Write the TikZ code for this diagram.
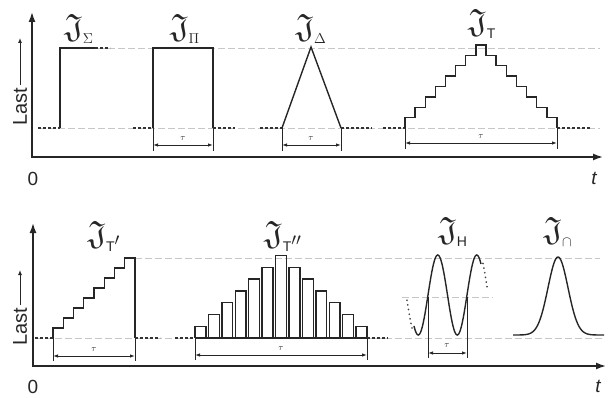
\documentclass[tikz,border=0pt]{standalone}
\usepackage{amssymb}
\usepackage{fontspec}
\setsansfont{Liberation Sans}
\usetikzlibrary{arrows.meta}
\newcommand{\sub}[1]{\hbox{\fontsize{14}{14}\selectfont\sffamily #1}}
\newcommand{\bigJ}{\scalebox{1.35}{$\mathfrak{J}$}}
\tikzset{
  axis/.style={line width=1.6pt, draw=black!85, line join=miter, {Latex[length=10pt,width=7pt]}-{Latex[length=10pt,width=7pt]}},
  sig/.style={line width=1.4pt, draw=black!85},
  guide/.style={line width=0.8pt, draw=black!22, dash pattern=on 7pt off 3pt},
  cont/.style={line width=1.3pt, draw=black!80, dash pattern=on 3pt off 2pt},
  dotc/.style={line width=1.8pt, draw=black!75, dash pattern=on 0.1pt off 4.6pt, line cap=round},
  ext/.style={line width=0.9pt, draw=black!85},
  dim/.style={line width=0.9pt, draw=black!85, {Latex[length=5pt,width=3.5pt]}-{Latex[length=5pt,width=3.5pt]}},
  lbl/.style={font=\fontsize{24.88}{28}\selectfont, inner sep=0pt, text=black!85},
  taulbl/.style={font=\fontsize{9}{10}\selectfont, inner sep=0pt, text=black!85},
  axtxt/.style={font=\fontsize{19}{21}\selectfont\sffamily, inner sep=0pt, text=black!85},
  lastarrow/.style={line width=1pt, draw=black!85, shorten <=3pt, -{Latex[length=5pt,width=4pt]}},
}
\begin{document}
\begin{tikzpicture}[x=1pt,y=-1pt]
\useasboundingbox (0,0) rectangle (615,398);

% ================= TOP PANEL =================
% guide lines
\draw[guide] (38,128) -- (600,128);
\draw[guide] (98,48) -- (600,48);
% axes
\draw[axis] (32,12) -- (32,157) -- (603,157);
\node[axtxt] (zeroA) at (33,179) {0};
\node[axtxt, font=\fontsize{19}{21}\selectfont\sffamily\itshape] (tA) at (594,178) {t};
\node[axtxt, rotate=90, font=\fontsize{20}{22}\selectfont\sffamily] (lastA) at (20,107) {Last};
\coordinate (lastAtip) at (20,38);
\draw[lastarrow] (lastA.east) -- (lastAtip);

% Sigma: step
\draw[cont] (38,128) -- (60,128);
\draw[sig] (60,128) -- (60,48) -- (95,48);
\draw[cont] (95,48) -- (110,48);
\node[lbl] (JSigma) at (79,29) {$\bigJ_{\sub{$\Sigma$}}$};

% Pi: rectangle
\draw[cont] (133,128) -- (153,128);
\draw[sig] (153,128) -- (153,48) -- (213,48) -- (213,128);
\draw[cont] (213,128) -- (235,128);
\draw[ext] (153,128) -- (153,151);
\draw[ext] (213,128) -- (213,151);
\draw[dim] (153,145) -- (213,145);
\node[taulbl] (tauPi) at (183,139) {$\tau$};
\node[lbl] (JPi) at (185,29) {$\bigJ_{\sub{$\Pi$}}$};

% Delta: triangle
\draw[cont] (260,128) -- (282,128);
\draw[sig, line join=miter] (282,128) -- (311,47) -- (341,128);
\draw[cont] (341,128) -- (372,128);
\draw[cont] (383,128) -- (405,128);
\draw[ext] (282,128) -- (282,151);
\draw[ext] (341,128) -- (341,151);
\draw[dim] (282,145) -- (341,145);
\node[taulbl] (tauDelta) at (311,139) {$\tau$};
\node[lbl] (JDelta) at (311,29) {$\bigJ_{\sub{$\Delta$}}$};

% T: staircase up and down
\draw[sig] (405,128)
  \foreach \i in {1,...,8}{ -- ++(0,-10.375) -- ++(10.13,0) }
  \foreach \i in {1,...,7}{ -- ++(0,10.375) -- ++(10.13,0) }
  -- ++(0,10.375);
\draw[cont] (557,128) -- (590,128);
\draw[ext] (405,128) -- (405,149);
\draw[ext] (557,128) -- (557,149);
\draw[dim] (405,143) -- (557,143);
\node[taulbl] (tauT) at (481,137) {$\tau$};
\node[lbl] (JT) at (482,24) {$\bigJ_{\sub{T}}$};

% ================= BOTTOM PANEL =================
\draw[guide] (35,338) -- (602,338);
\draw[guide] (135,258) -- (600,258);
\draw[guide] (402,297) -- (493,297);
\draw[axis] (33,223) -- (33,366) -- (606,366);
\node[axtxt] (zeroB) at (33,387) {0};
\node[axtxt, font=\fontsize{19}{21}\selectfont\sffamily\itshape] (tB) at (598,386) {t};
\node[axtxt, rotate=90, font=\fontsize{20}{22}\selectfont\sffamily] (lastB) at (20,327) {Last};
\coordinate (lastBtip) at (20,270);
\draw[lastarrow] (lastB.east) -- (lastBtip);

% T': rising staircase
\draw[cont] (35,338) -- (53,338);
\draw[sig] (53,338)
  \foreach \i in {1,...,8}{ -- ++(0,-10) -- ++(10.25,0) }
  -- (135,338);
\draw[cont] (135,338) -- (160,338);
\draw[ext] (53,338) -- (53,361);
\draw[ext] (135,338) -- (135,361);
\draw[dim] (53,356) -- (135,356);
\node[taulbl] (tauTp) at (94,350) {$\tau$};
\node[lbl] (JTp) at (104,236) {$\bigJ_{\sub{T}^{\prime}}$};

% T'': bars
\draw[cont] (175,338) -- (195,338);
\draw[sig] (195,338) -- (367,338);
\foreach \k [evaluate=\k as \hk using {11.8*min(\k,14-\k)},
             evaluate=\k as \xk using {195+(\k-1)*13.425}] in {1,...,13}{
  \draw[sig] (\xk,338) -- (\xk,338-\hk) -- (\xk+10.92,338-\hk) -- (\xk+10.92,338);
}
\draw[cont] (367,338) -- (388,338);
\draw[ext] (195,338) -- (195,360);
\draw[ext] (367,338) -- (367,360);
\draw[dim] (195,355) -- (367,355);
\node[taulbl] (tauTpp) at (281,349) {$\tau$};
\node[lbl] (JTpp) at (283,236) {$\bigJ_{\sub{T}^{\prime\prime}}$};

% H: sine (period 39)
\draw[sig, smooth, samples=80, domain=414:481] plot (\x,{295-40*sin(9.2308*(\x-428))});
\draw[dotc, smooth, samples=20, domain=407:412] plot (\x,{297-40*sin(9.2308*(\x-426))});
\draw[dotc, smooth, samples=20, domain=483:487] plot (\x,{290-40*sin(9.2308*(\x-429))});
\draw[ext] (428,297) -- (428,358);
\draw[ext] (467,297) -- (467,358);
\draw[dim] (428,353) -- (467,353);
\node[taulbl] (tauH) at (447,346) {$\tau$};
\node[lbl] (JH) at (453,232) {$\bigJ_{\sub{H}}$};

% Cap: bell
\draw[sig, smooth, samples=90, domain=513:604] plot (\x,{335-78*exp(-((\x-558)/10)^2/2)});
\node[lbl] (JCap) at (558,232) {$\bigJ_{\sub{$\cap$}}$};
\end{tikzpicture}
\end{document}
